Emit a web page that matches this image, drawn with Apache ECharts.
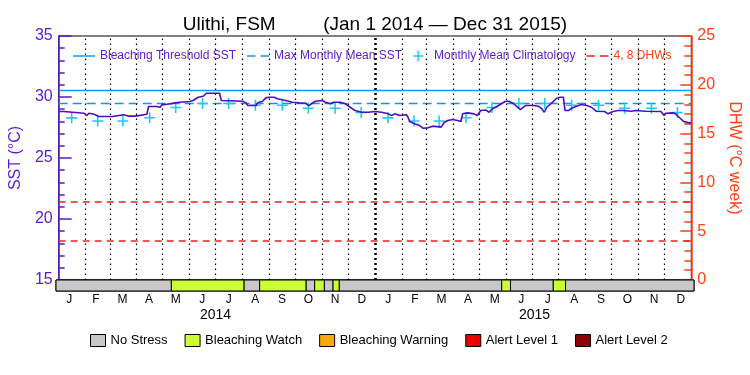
<!DOCTYPE html>
<html><head><meta charset="utf-8">
<script src="https://cdn.jsdelivr.net/npm/echarts@6/dist/echarts.min.js"></script>
<style>html,body{margin:0;padding:0;background:#fff}#c{width:750px;height:375px}</style>
</head><body><div id="c"></div>
<script>
// ---- data ----
const monthLabels = ['J','F','M','A','M','J','J','A','S','O','N','D','J','F','M','A','M','J','J','A','S','O','N','D'];
const yearLabels = ['2014','2015'];
const monthStartDays = [31,59,90,120,151,181,212,243,273,304,334,365,396,424,455,485,516,546,577,608,638,669,699];
const yearStartDays = [365];
const climDays = [15,45,74,105,135,166,196,227,258,288,319,349,380,410,439,470,500,531,561,592,623,653,684,714];
const climSST = [28.29,28.04,28.04,28.30,29.14,29.47,29.47,29.33,29.33,29.08,29.08,28.73,
                 28.29,28.04,28.04,28.30,29.14,29.47,29.47,29.33,29.33,29.08,29.08,28.73];
const sstDays = [0,6,6.5,29.4,32.4,35,40.8,46.5,61.8,62,75,77,80.9,88.5,90.4,101.8,103.7,113,117,119,124.7,130.4,134,140,151,155,161,166.7,170.5,185.7,
  187.6,189.5,212.4,216.3,218.2,227.7,229.6,235.3,239.1,243,248.6,252.5,262,269.6,277.2,284.9,288.7,292.5,296.3,304,307.8,313.5,317.3,324.9,330.7,336.4,342.1,349.7,357.4,365,
  372.6,380.2,384,387.8,393.6,401.2,403.1,405,410.7,416.5,420.3,422.2,426,431.7,441.3,445.1,448.9,454.6,460.3,464.2,466.1,471.8,479.4,483.2,487,492.8,496.6,500.4,506.1,511.8,515.6,519.5,525.2,532.8,538.5,544.3,548,
  553.8,557.6,560.3,563.3,569,574.7,578.5,582.4,584.3,588.1,591.9,597.6,603.3,609.1,614.8,620.5,630,633.9,635.8,639.6,645.3,651,660.6,662.5,666.3,677.7,694.9,698.7,700.6,708.2,712,715.8,721.5,727.3,730];
const sstValues = [28.81,28.81,28.67,28.67,28.48,28.67,28.59,28.40,28.40,28.48,28.55,28.61,28.43,28.43,28.59,28.59,29.22,29.22,29.16,29.35,29.40,29.46,29.52,29.57,29.63,29.71,29.98,30.06,30.31,30.31,
  29.71,29.65,29.65,29.52,29.30,29.30,29.52,29.65,29.93,29.98,29.98,29.85,29.71,29.57,29.52,29.49,29.30,29.49,29.65,29.71,29.57,29.44,29.57,29.57,29.44,29.16,28.89,28.75,28.75,28.81,
  28.75,28.62,28.48,28.62,28.48,28.54,28.34,27.99,27.80,27.66,27.44,27.39,27.47,27.61,27.53,27.93,28.07,28.16,28.07,27.99,28.62,28.70,28.62,28.48,28.89,28.94,28.75,29.03,29.24,29.49,29.65,29.65,29.44,28.97,29.30,29.30,29.30,
  29.24,29.03,28.75,29.16,29.52,29.90,29.98,29.98,28.89,28.89,29.08,29.24,29.38,29.30,29.16,28.83,28.81,28.62,28.48,28.81,28.89,28.89,28.83,28.67,28.89,28.83,28.81,28.48,28.67,28.70,28.62,28.34,27.99,27.88,27.88];
const thresholdSST = [30.53];
const mmmSST = [29.47];
const dhwLevels = [4, 8];
const statusNames = ['No Stress','Bleaching Watch','Bleaching Warning','Alert Level 1','Alert Level 2'];
const statusColors = ['#c8c8c8','#ccff33','#fbaa0c','#ee0000','#8b0000'];
const statusStart = [0,132,215,233,286,296,307,317,324,510,520,569,583];
const statusEnd   = [132,215,233,286,296,307,317,324,510,520,569,583,730];
const statusLevel = [0,1,0,1,0,1,0,1,0,1,0,1,0];

// ---- chart ----
const FONT = 'Liberation Sans';
const PURPLE = '#5a1ad0';
const LINEP = '#4b0fbf';
const ORANGE = '#ff4010';
const BLUE = '#0a9bff';
const MBLUE = '#1e8ff0';
const CYAN = '#1ec8f5';
const RED = '#ee2020';

const sstData = sstDays.map((d,i)=>[d, sstValues[i]]);
const climData = climDays.map((d,i)=>[d, climSST[i]]);
const crossPath = 'path://M4.3,0H5.7V10H4.3Z M0,4.3H10V5.7H0Z';
const solidIcon = 'path://M0,0H22V1.5H0Z';
const dashIcon = 'path://M0,0H8V1.5H0Z M13,0H21V1.5H13Z';

const monthLines = monthStartDays.map(d=>({xAxis:d, lineStyle:{color:'#000', width:1.2, type:[1.5,3.5]}}));
const yearLines = yearStartDays.map(d=>({xAxis:d, lineStyle:{color:'#000', width:2.5, type:[2,3]}}));

const statusSeries = statusNames.map((nm, k)=>({
  type:'custom', name:nm, xAxisIndex:3, yAxisIndex:2, silent:true,
  itemStyle:{color:statusColors[k]},
  encode:{x:[0,1]},
  data: statusStart.map((s,i)=>[s, statusEnd[i], statusLevel[i]]).filter(r=>r[2]===k),
  renderItem:function(params, api){
    const a = api.coord([api.value(0), 1]);
    const b = api.coord([api.value(1), 0]);
    return {type:'rect', shape:{x:a[0], y:a[1], width:b[0]-a[0], height:b[1]-a[1]},
      style:{fill:statusColors[k], stroke:'#000', lineWidth:1}};
  }
}));

const chart = echarts.init(document.getElementById('c'), null, {renderer:'canvas'});
chart.setOption({
  animation:false,
  backgroundColor:'#fff',
  textStyle:{fontFamily:FONT},
  title:{text:'Ulithi, FSM         (Jan 1 2014 \u2014 Dec 31 2015)', left:'center', top:10,
    textStyle:{fontFamily:FONT, fontSize:19, fontWeight:'normal', color:'#000'}},
  legend:[{
    data:[{name:'Bleaching Threshold SST', icon:solidIcon},{name:'Max Monthly Mean SST', icon:dashIcon},
          {name:'Monthly Mean Climatology', icon:crossPath},
          {name:'4, 8 DHWs', icon:dashIcon, textStyle:{color:ORANGE}}],
    left:68, top:45, itemWidth:22, itemHeight:10, itemGap:11,
    textStyle:{fontFamily:FONT, fontSize:12, color:PURPLE}, selectedMode:false
  },{
    data:statusNames, left:85, top:329, icon:'rect', itemWidth:15, itemHeight:12, itemGap:17,
    itemStyle:{borderColor:'#000', borderWidth:1},
    textStyle:{fontFamily:FONT, fontSize:13, color:'#000'}, selectedMode:false
  }],
  grid:[
    {left:56, right:56, top:36, height:244, show:true, borderColor:'#000', borderWidth:1, backgroundColor:'transparent'},
    {left:56, right:56, top:280, height:11, show:true, borderColor:'#000', borderWidth:1, backgroundColor:'transparent'}
  ],
  xAxis:[
    {type:'value', gridIndex:0, min:0, max:730, show:false},
    {type:'category', gridIndex:1, data:monthLabels, position:'bottom', boundaryGap:true,
      axisLine:{show:false}, axisTick:{show:false}, splitLine:{show:false},
      axisLabel:{color:'#000', fontSize:12, fontFamily:FONT, margin:3, interval:0}},
    {type:'category', gridIndex:1, data:yearLabels, position:'bottom', offset:15, boundaryGap:true,
      axisLine:{show:false}, axisTick:{show:false}, splitLine:{show:false},
      axisLabel:{color:'#000', fontSize:14, fontFamily:FONT, margin:2, interval:0}},
    {type:'value', gridIndex:1, min:0, max:730, show:false}
  ],
  yAxis:[
    {type:'value', gridIndex:0, position:'left', min:15, max:35, interval:5,
      name:'SST (\u00b0C)', nameLocation:'middle', nameGap:31, nameRotate:90,
      nameTextStyle:{color:PURPLE, fontSize:16, fontFamily:FONT},
      axisLine:{show:true, lineStyle:{color:PURPLE, width:1.5}},
      axisTick:{show:true, inside:true, length:13, lineStyle:{color:PURPLE, width:1.5}},
      minorTick:{show:true, splitNumber:5, length:6, lineStyle:{color:PURPLE, width:1.5}},
      splitLine:{show:false},
      axisLabel:{color:PURPLE, fontSize:16, fontFamily:FONT, margin:6}},
    {type:'value', gridIndex:0, position:'right', min:0, max:25, interval:5,
      name:'DHW (\u00b0C week)', nameLocation:'middle', nameGap:27, nameRotate:-90,
      nameTextStyle:{color:ORANGE, fontSize:16, fontFamily:FONT},
      axisLine:{show:true, lineStyle:{color:ORANGE, width:1.5}},
      axisTick:{show:true, inside:true, length:11, lineStyle:{color:ORANGE, width:1.5}},
      minorTick:{show:true, splitNumber:5, length:7, lineStyle:{color:ORANGE, width:1.5}},
      splitLine:{show:false},
      axisLabel:{color:ORANGE, fontSize:16, fontFamily:FONT, margin:6}},
    {type:'value', gridIndex:1, min:0, max:1, show:false}
  ],
  series:[
    {type:'line', name:'SST', xAxisIndex:0, yAxisIndex:0, data:sstData, symbol:'none', z:5,
      lineStyle:{color:LINEP, width:1.6}, itemStyle:{color:LINEP},
      markLine:{silent:true, symbol:'none', label:{show:false}, animation:false,
        data: monthLines.concat(yearLines)}},
    {type:'line', name:'Bleaching Threshold SST', xAxisIndex:0, yAxisIndex:0, symbol:'none', z:3,
      data:[[0,thresholdSST[0]],[730,thresholdSST[0]]],
      lineStyle:{color:BLUE, width:1.5}, itemStyle:{color:BLUE}},
    {type:'line', name:'Max Monthly Mean SST', xAxisIndex:0, yAxisIndex:0, symbol:'none', z:3,
      data:[[0,mmmSST[0]],[730,mmmSST[0]]],
      lineStyle:{color:MBLUE, width:1.5, type:[9,5]}, itemStyle:{color:MBLUE}},
    {type:'scatter', name:'Monthly Mean Climatology', xAxisIndex:0, yAxisIndex:0, z:4,
      data:climData, symbol:crossPath, symbolSize:11, itemStyle:{color:CYAN, opacity:1}},
    {type:'line', name:'4, 8 DHWs', xAxisIndex:0, yAxisIndex:1, symbol:'none', z:3, data:[],
      lineStyle:{color:RED, width:1.5, type:[7,5]}, itemStyle:{color:RED},
      markLine:{silent:true, symbol:'none', label:{show:false},
        lineStyle:{color:RED, width:1.5, type:[7,5]},
        data: dhwLevels.map(v=>({yAxis:v}))}}
  ].concat(statusSeries)
});
</script></body></html>
